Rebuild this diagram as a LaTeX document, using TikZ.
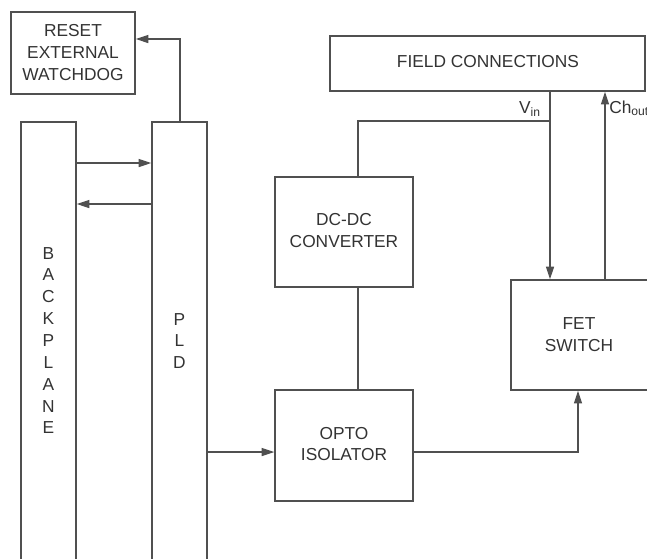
\documentclass[tikz,border=0pt]{standalone}
\usepackage{fontspec}
\setmainfont{Liberation Sans}
\usetikzlibrary{arrows.meta,fit}
\definecolor{linec}{HTML}{505050}
\definecolor{textc}{HTML}{333333}
\newcommand\lab{\fontsize{13}{16.3}\selectfont}
\newcommand\stk{\fontsize{13}{16.4}\selectfont}
\tikzset{
  box/.style={draw=linec, line width=1pt, inner sep=0pt},
  txt/.style={inner sep=0pt, align=center, text=textc, font=\lab},
  stack/.style={txt, font=\stk},
  lbl/.style={inner sep=0pt, text=textc, font=\lab},
  conn/.style={draw=linec, line width=1pt},
  arr/.style={conn, -{Triangle[length=9.5pt,width=6pt]}}
}
\begin{document}
\begin{tikzpicture}[x=0.75pt,y=-0.75pt]
\useasboundingbox (0,0) rectangle (647,558);
\clip (0,0) rectangle (647,558);
% boxes
\node[box, fit={(11,12) (135,94)}] (reset) {};
\node[txt] (resett) at (73,52.5) {RESET\\EXTERNAL\\WATCHDOG};
\node[box, fit={(21,122) (76,600)}] (bp) {};
\node[stack] (bpt) at (48.5,340.5) {B\\A\\C\\K\\P\\L\\A\\N\\E};
\node[box, fit={(152,122) (207,600)}] (pld) {};
\node[stack] (pldt) at (179.5,341) {P\\L\\D};
\node[box, fit={(330,36) (645,91)}] (field) {};
\node[txt] (fieldt) at (488,61.5) {FIELD CONNECTIONS};
\node[box, fit={(275,177) (413,287)}] (dcdc) {};
\node[txt] (dcdct) at (344,230.5) {DC-DC\\CONVERTER};
\node[box, fit={(275,390) (413,501)}] (opto) {};
\node[txt] (optot) at (344,444) {OPTO\\ISOLATOR};
\node[box, fit={(511,280) (680,390)}] (fet) {};
\node[txt] (fett) at (579,334.5) {FET\\SWITCH};
% helper coordinates
\coordinate (r163) at (0,163);
\coordinate (r204) at (0,204);
\coordinate (c180) at (180,39);
\coordinate (r452) at (0,452);
\coordinate (c358) at (358,121);
\coordinate (vin) at (550,121);
\coordinate (c605) at (605,0);
\coordinate (c578) at (578,452);
% connectors
\draw[arr] (bp.east |- r163) -- (pld.west |- r163);
\draw[arr] (pld.west |- r204) -- (bp.east |- r204);
\draw[arr] (pld.north -| c180) -- (c180) -- (reset.east |- c180);
\draw[arr] (pld.east |- r452) -- (opto.west |- r452);
\draw[conn] (dcdc.south -| c358) -- (opto.north -| c358);
\draw[conn] (dcdc.north -| c358) -- (c358) -- (vin);
\draw[arr] (field.south -| vin) -- (fet.north -| vin);
\draw[arr] (fet.north -| c605) -- (field.south -| c605);
\draw[arr] (opto.east |- c578) -| (fet.south -| c578);
% labels
\node[lbl, anchor=base east] (vinl) at (541,113) {V\textsubscript{in}};
\node[lbl, anchor=base west] (choutl) at (609,113) {Ch\textsubscript{out}};
\end{tikzpicture}
\end{document}
